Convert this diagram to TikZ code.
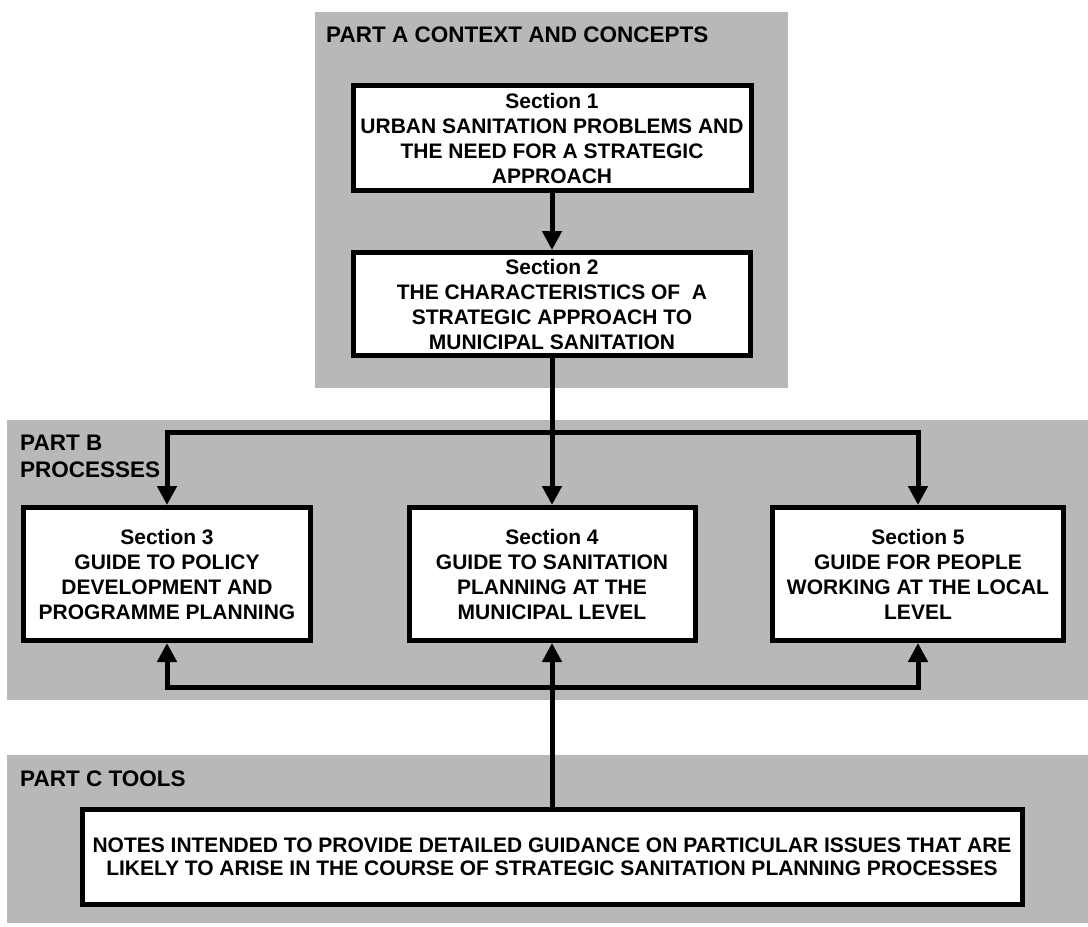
\documentclass[tikz,border=0pt]{standalone}
\usepackage{fontspec}
\setmainfont{Liberation Sans}
\usetikzlibrary{arrows.meta,calc}
\definecolor{panelgray}{RGB}{184,184,184}
\begin{document}
\begin{tikzpicture}[x=1pt,y=-1pt,
  panel/.style={fill=panelgray,draw=none},
  sectionbox/.style={draw=black,line width=5pt,fill=white,align=center,inner sep=0pt,
    font=\fontsize{21}{25}\selectfont\bfseries},
  partlabel/.style={anchor=base west,inner sep=0pt,font=\fontsize{22.5}{27}\selectfont\bfseries},
  link/.style={line width=5pt,line join=miter,-{Triangle[width=19pt,length=19pt]}},
  twoway/.style={line width=5pt,line join=miter,{Triangle[width=19pt,length=19pt]}-{Triangle[width=19pt,length=19pt]}}
]
\useasboundingbox (0,0) rectangle (1088,927);

% shaded panels for the three parts
\fill[panel] (315,12) rectangle (788,388);
\fill[panel] (7,420) rectangle (1088,700);
\fill[panel] (7,755) rectangle (1088,923);

% part headings
\node[partlabel] (pa) at (326,42) {PART A CONTEXT AND CONCEPTS};
\node[partlabel] (pb1) at (20,450) {PART B};
\node[partlabel] (pb2) at (20,477) {PROCESSES};
\node[partlabel] (pc) at (20,786) {PART C TOOLS};

% section boxes
\node[sectionbox,minimum width=398pt,minimum height=105pt] (s1) at (552,138)
  {Section 1\\URBAN SANITATION PROBLEMS AND\\THE NEED FOR A STRATEGIC\\APPROACH};
\node[sectionbox,minimum width=397pt,minimum height=103pt] (s2) at (552,304)
  {Section 2\\THE CHARACTERISTICS OF~ A\\STRATEGIC APPROACH TO\\MUNICIPAL SANITATION};
\node[sectionbox,minimum width=287pt,minimum height=133pt] (s3) at (167,574)
  {Section 3\\GUIDE TO POLICY\\DEVELOPMENT AND\\PROGRAMME PLANNING};
\node[sectionbox,minimum width=286pt,minimum height=133pt] (s4) at (552,574)
  {Section 4\\GUIDE TO SANITATION\\PLANNING AT THE\\MUNICIPAL LEVEL};
\node[sectionbox,minimum width=291pt,minimum height=133pt] (s5) at (918,574)
  {Section 5\\GUIDE FOR PEOPLE\\WORKING AT THE LOCAL\\LEVEL};
\node[sectionbox,minimum width=940pt,minimum height=95pt,
  font=\fontsize{21}{23}\selectfont\bfseries] (notes) at (552,857)
  {NOTES INTENDED TO PROVIDE DETAILED GUIDANCE ON PARTICULAR ISSUES THAT ARE\\
   LIKELY TO ARISE IN THE COURSE OF STRATEGIC SANITATION PLANNING PROCESSES};

% bus lines above and below the Part B sections
\coordinate (bustop) at (552,432);
\coordinate (busbot) at (552,687);

% connectors
\draw[link] (s1) -- (s2);
\draw[link] (s2) -- (s4);
\draw[twoway] (s3.north) |- (bustop) -| (s5.north);
\draw[twoway] (s3.south) |- (busbot) -| (s5.south);
\draw[link] (notes) -- (s4);
\end{tikzpicture}
\end{document}
